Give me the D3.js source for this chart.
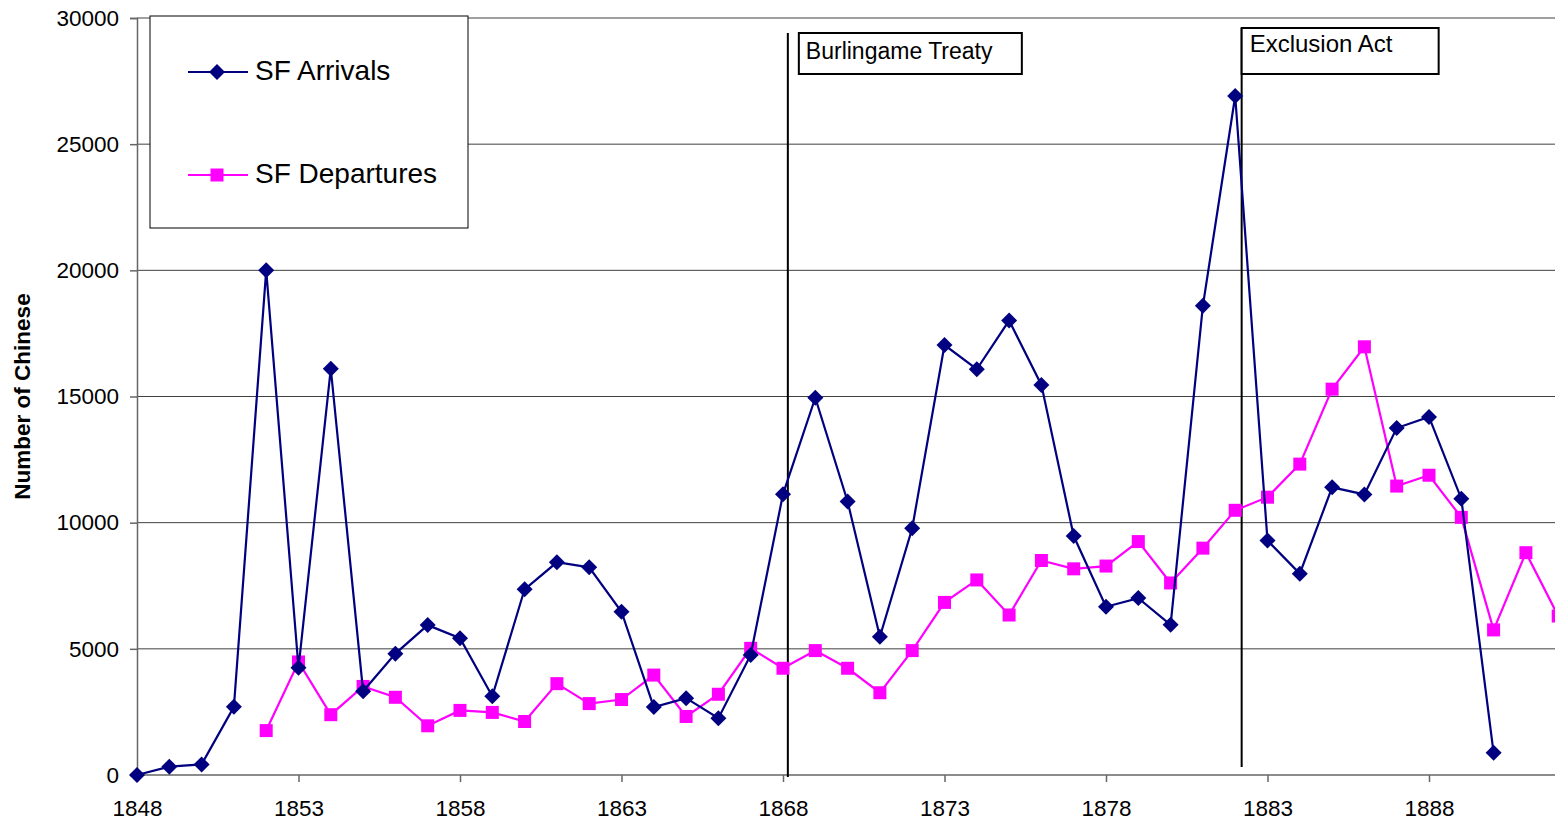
<!DOCTYPE html>
<html>
<head>
<meta charset="utf-8">
<script src="https://cdn.jsdelivr.net/npm/d3@7"></script>
<style>
  body { margin: 0; background: #fff; }
  svg { display: block; font-family: "Liberation Sans", Arial, sans-serif; }
  .tick text { font-size: 22.5px; fill: #000; }
  .domain, .tick line { stroke: #666; stroke-width: 1.5; }
</style>
</head>
<body>
<svg id="chart" width="1555" height="824"></svg>
<script>
// values
let arrival_years = d3.range(1848, 1891),
  arrivals = [0, 330, 420, 2700, 20000, 4250, 16100, 3320, 4810, 5940,
              5420, 3120, 7360, 8430, 8230, 6470, 2690, 3045, 2250, 4760,
              11130, 14950, 10840, 5480, 9780, 17040, 16080, 18010, 15460, 9470,
              6670, 7010, 5950, 18600, 26910, 9290, 7980, 11400, 11120, 13750,
              14190, 10950, 880],
  departure_years = d3.range(1852, 1893),
  departures = [1760, 4480, 2390, 3510, 3080, 1950, 2560, 2480, 2120, 3620,
                2830, 2990, 3960, 2320, 3200, 5020, 4230, 4930, 4230, 3260,
                4930, 6840, 7730, 6340, 8500, 8170, 8280, 9250, 7610, 8990,
                10490, 11010, 12320, 15290, 16970, 11450, 11880, 10210, 5750, 8810,
                6300],
  x_ticks = [1848, 1853, 1858, 1863, 1868, 1873, 1878, 1883, 1888],
  y_ticks = [0, 5000, 10000, 15000, 20000, 25000, 30000],
  event_years = [1868.15, 1882.2],
  event_labels = ["Burlingame Treaty", "Exclusion Act"];

let width = 1555,
  height = 824,
  margins = {left: 137, right: 0, top: 18, bottom: 49},
  navy = "#000080",
  magenta = "#ff00ff",
  diamond = "M0,-8L8,0L0,8L-8,0Z",
  square = "M-6.5,-6.5H6.5V6.5H-6.5Z";

let svg = d3.select("#chart");

let x = d3.scaleLinear().domain([1848, 1893]).range([margins.left, margins.left + 45 * 32.3]),
  y = d3.scaleLinear().domain([0, 30000]).range([height - margins.bottom, margins.top]);

// gridlines
svg.append("g")
  .selectAll("line")
  .data(y_ticks.slice(1))
  .enter().append("line")
  .attr("x1", margins.left).attr("x2", width)
  .attr("y1", d => y(d)).attr("y2", d => y(d))
  .attr("stroke", "#404040").attr("stroke-width", 1);

// axes
svg.append("g")
  .attr("transform", `translate(${margins.left}, 0)`)
  .call(d3.axisLeft(y).tickValues(y_ticks).tickSize(7).tickPadding(11).tickFormat(d3.format("d")));
svg.append("g")
  .attr("transform", `translate(0, ${y(0)})`)
  .call(d3.axisBottom(x).tickValues(x_ticks).tickSize(7).tickPadding(18).tickFormat(d3.format("d")))
  .call(g => g.select(".domain").attr("d", `M${margins.left},0H${width}`));

svg.append("text")
  .text("Number of Chinese")
  .attr("transform", `translate(30, ${(y(0) + y(30000)) / 2}) rotate(-90)`)
  .attr("text-anchor", "middle")
  .attr("font-weight", "bold")
  .attr("font-size", "22.5px");

// event lines and labels
let ev = svg.append("g")
  .selectAll("g")
  .data(event_years)
  .enter().append("g");
ev.append("line")
  .attr("x1", d => x(d)).attr("x2", d => x(d))
  .attr("y1", (d, i) => i == 0 ? 33 : 28)
  .attr("y2", (d, i) => i == 0 ? y(0) + 2 : y(0) - 8)
  .attr("stroke", "#000").attr("stroke-width", 2);
ev.append("rect")
  .attr("x", (d, i) => x(d) + (i == 0 ? 11 : 0))
  .attr("y", (d, i) => i == 0 ? 33 : 28)
  .attr("width", (d, i) => i == 0 ? 223 : 197)
  .attr("height", (d, i) => i == 0 ? 41 : 46)
  .attr("fill", "#fff").attr("stroke", "#000").attr("stroke-width", 2);
ev.append("text")
  .text((d, i) => event_labels[i])
  .attr("x", (d, i) => x(d) + (i == 0 ? 18 : 8))
  .attr("y", (d, i) => i == 0 ? 59 : 52)
  .attr("font-size", (d, i) => i == 0 ? "23px" : "24px");

// series
function series(years, values, color, marker) {
  let pts = years.map((yr, i) => [yr, values[i]]);
  let g = svg.append("g");
  g.append("path")
    .datum(pts)
    .attr("fill", "none")
    .attr("stroke", color)
    .attr("stroke-width", 2.2)
    .attr("d", d3.line().x(d => x(d[0])).y(d => y(d[1])));
  g.selectAll(".m")
    .data(pts)
    .enter().append("path")
    .attr("transform", d => `translate(${x(d[0])}, ${y(d[1])})`)
    .attr("d", marker)
    .attr("fill", color);
}

series(departure_years, departures, magenta, square);
series(arrival_years, arrivals, navy, diamond);

// legend
let lg = svg.append("g");
lg.append("rect")
  .attr("x", 150).attr("y", 16).attr("width", 318).attr("height", 212)
  .attr("fill", "#fff").attr("stroke", "#000").attr("stroke-width", 1);
let items = [["SF Arrivals", navy, diamond, 72], ["SF Departures", magenta, square, 175]];
items.forEach(([name, color, marker, ly]) => {
  lg.append("line").attr("x1", 188).attr("x2", 248).attr("y1", ly).attr("y2", ly)
    .attr("stroke", color).attr("stroke-width", 2);
  lg.append("path").attr("transform", `translate(217, ${ly})`).attr("d", marker).attr("fill", color);
  lg.append("text").text(name).attr("x", 255).attr("y", ly + 8).attr("font-size", "28px");
});
</script>
</body>
</html>
